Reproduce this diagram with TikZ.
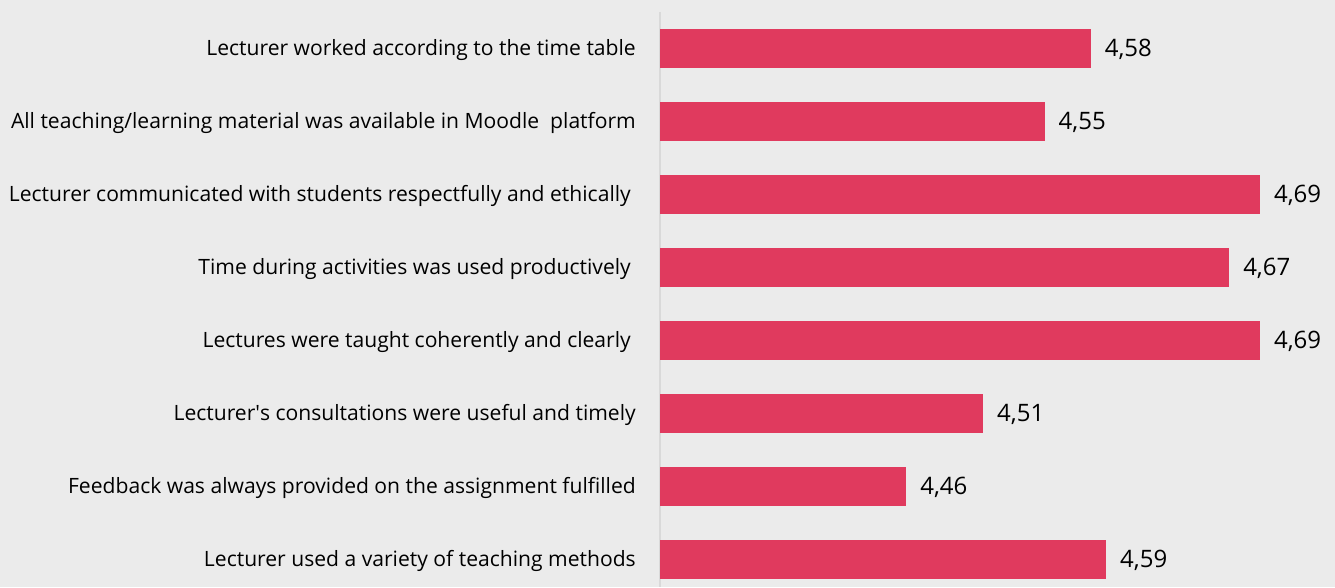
\documentclass[tikz,border=0pt]{standalone}
\usepackage{fontspec}
\setmainfont{Open Sans}
\definecolor{barred}{HTML}{E03A5E}
\definecolor{bggray}{HTML}{EBEBEB}
\definecolor{axisgray}{HTML}{D9D9D9}
\begin{document}
\begin{tikzpicture}[x=1pt,y=-1pt,
  lbl/.style={anchor=base east,inner sep=0pt,font=\fontsize{21.1}{25}\selectfont},
  val/.style={anchor=base west,inner sep=0pt,font=\fontsize{24}{28}\selectfont}]
\fill[bggray] (0,0) rectangle (1335,587);
\draw[axisgray,line width=2pt] (659.5,12) -- (659.5,587);
\foreach \v/\s/\t [count=\i from 0] in {
  4.58/{4,58}/{Lecturer worked according to the time table},
  4.55/{4,55}/{All teaching/learning material was available in Moodle\ \ platform},
  4.69/{4,69}/{Lecturer communicated with students respectfully and ethically\hspace*{5pt}},
  4.67/{4,67}/{Time during activities was used productively\hspace*{5pt}},
  4.69/{4,69}/{Lectures were taught coherently and clearly\hspace*{5pt}},
  4.51/{4,51}/{Lecturer\textquotesingle s consultations were useful and timely},
  4.46/{4,46}/{Feedback was always provided on the assignment fulfilled},
  4.59/{4,59}/{Lecturer used a variety of teaching methods}}{
  \pgfmathsetmacro\y{48.5+73*\i}
  \pgfmathsetmacro\xe{660+(\v-4.3)*1538}
  \fill[barred] (660,\y-19.5) rectangle (\xe,\y+19.5);
  \node[lbl] (lbl\i) at (636,\y+7) {\t};
  \node[val] (val\i) at (\xe+14,\y+8) {\s};
}
\end{tikzpicture}
\end{document}
